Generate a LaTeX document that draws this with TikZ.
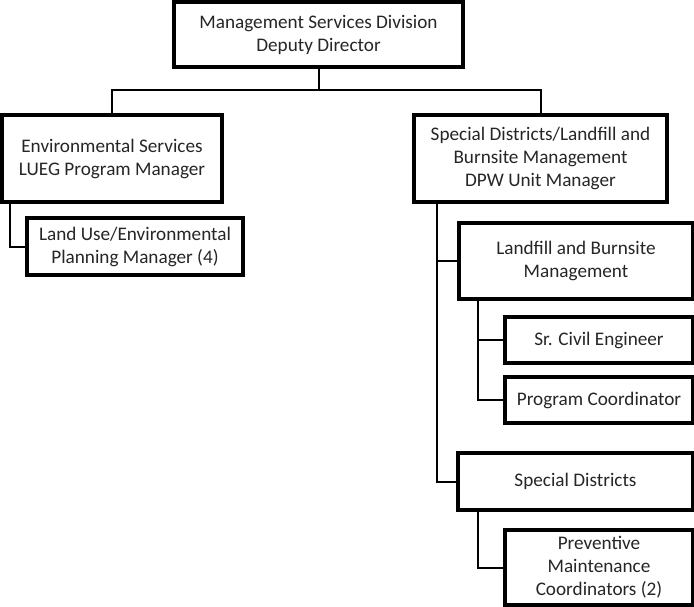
\documentclass[tikz,border=0pt]{standalone}
\usepackage{fontspec}
\setmainfont{Carlito}
\begin{document}
\begin{tikzpicture}[x=0.75pt,y=-0.75pt,
  box/.style={draw=black,line width=2.4pt,fill=white,align=center,inner sep=0pt,
    font=\fontsize{14.4}{17.25}\selectfont,text=black!85},
  conn/.style={draw=black,line width=1.5pt}]
\useasboundingbox (0,0) rectangle (694,607);
\coordinate (bus) at (0,90);
\node[box,minimum width=289*0.75pt,minimum height=65*0.75pt] (top) at (318.5,34.5) {Management Services Division\\Deputy Director};
\node[box,minimum width=220*0.75pt,minimum height=87*0.75pt] (env) at (112,158.5) {Environmental Services\\LUEG Program Manager};
\node[box,minimum width=216*0.75pt,minimum height=57*0.75pt] (land) at (135,246.5) {Land Use/Environmental\\Planning Manager (4)};
\node[box,minimum width=253*0.75pt,minimum height=87*0.75pt] (spec) at (540.5,158.5) {Special Districts/Landfill and\\Burnsite Management\\DPW Unit Manager};
\node[box,minimum width=234*0.75pt,minimum height=76*0.75pt] (landfill) at (576,261) {Landfill and Burnsite\\Management};
\node[box,minimum width=188*0.75pt,minimum height=46*0.75pt] (sr) at (599,340) {Sr. Civil Engineer};
\node[box,minimum width=188*0.75pt,minimum height=46*0.75pt] (prog) at (599,400) {Program Coordinator};
\node[box,minimum width=235*0.75pt,minimum height=57*0.75pt] (sd) at (575.5,481.5) {Special Districts};
\node[box,minimum width=188*0.75pt,minimum height=75*0.75pt] (prev) at (599,567.5) {Preventive\\Maintenance\\Coordinators (2)};
\draw[conn] (top.south) -- (top.south |- bus);
\draw[conn] (env.north) -- (env.north |- bus) -| (spec.north);
\draw[conn] ([xshift=7.5pt]env.south west) |- (land.west);
\draw[conn] ([xshift=18.75pt]spec.south west) |- (landfill.west);
\draw[conn] ([xshift=18.75pt]spec.south west) |- (sd.west);
\draw[conn] ([xshift=15.75pt]landfill.south west) |- (sr.west);
\draw[conn] ([xshift=15.75pt]landfill.south west) |- (prog.west);
\draw[conn] ([xshift=16.5pt]sd.south west) |- (prev.west);
\end{tikzpicture}
\end{document}
